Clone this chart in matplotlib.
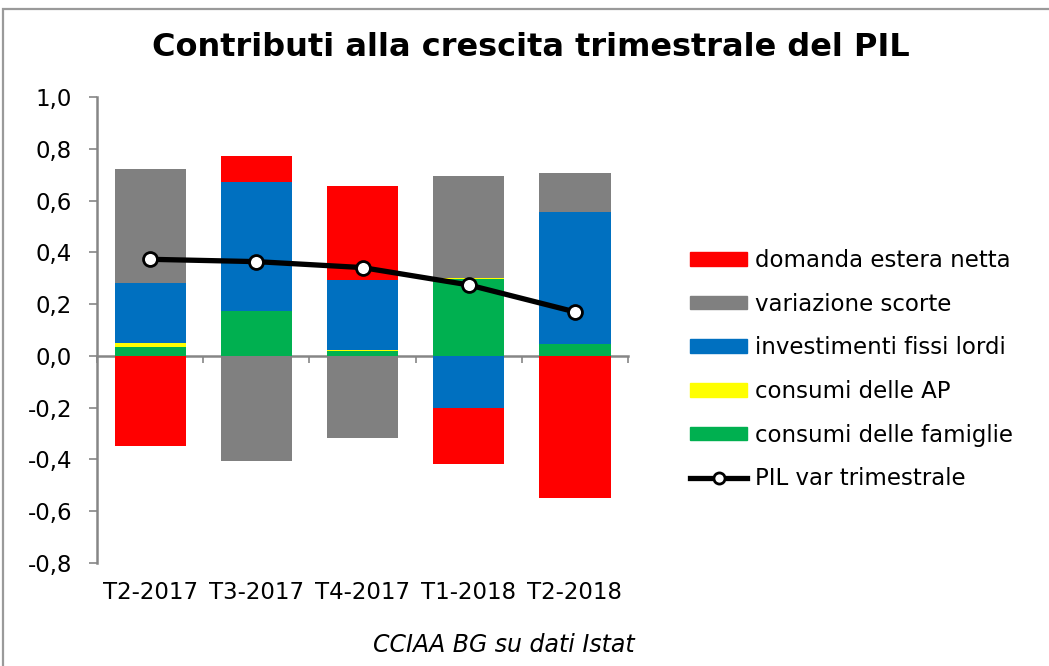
import matplotlib
matplotlib.use("Agg")
import matplotlib.pyplot as plt
from matplotlib.patches import Rectangle
from matplotlib.lines import Line2D
import numpy as np

categories = ["T2-2017", "T3-2017", "T4-2017", "T1-2018", "T2-2018"]
consumi_famiglie = [0.036, 0.172, 0.018, 0.296, 0.046]
consumi_ap = [0.014, 0.0, 0.005, 0.003, 0.0]
investimenti = [0.231, 0.499, 0.269, -0.203, 0.509]
scorte = [0.442, -0.406, -0.319, 0.395, 0.151]
estera = [-0.350, 0.100, 0.365, -0.213, -0.548]
pil = [0.373, 0.364, 0.341, 0.274, 0.170]
yticks = [-0.8, -0.6, -0.4, -0.2, 0.0, 0.2, 0.4, 0.6, 0.8, 1.0]

series = [
    ("consumi delle famiglie", consumi_famiglie, "#00B050"),
    ("consumi delle AP", consumi_ap, "#FFFF00"),
    ("investimenti fissi lordi", investimenti, "#0070C0"),
    ("variazione scorte", scorte, "#808080"),
    ("domanda estera netta", estera, "#FF0000"),
]

plt.rcParams['font.family'] = ['DejaVu Sans']
fig = plt.figure(figsize=(10.49, 6.66), dpi=100)
ax = fig.add_axes([0.0925, 0.1547, 0.5062, 0.6997])

x = np.arange(len(categories))
pos_base = np.zeros(len(categories))
neg_base = np.zeros(len(categories))
for name, vals, col in series:
    vals = np.array(vals)
    bottoms = np.where(vals >= 0, pos_base, neg_base)
    ax.bar(x, vals, width=0.67, bottom=bottoms, color=col, zorder=2,
           edgecolor=col, linewidth=0)
    pos_base = pos_base + np.where(vals >= 0, vals, 0)
    neg_base = neg_base + np.where(vals < 0, vals, 0)

ax.plot(x, pil, color="black", lw=3.8, marker="o", markersize=10,
        markerfacecolor="white", markeredgecolor="black", markeredgewidth=2, zorder=4)

ax.set_xlim(-0.5, 4.5)
ax.set_ylim(-0.8, 1.0)
ax.set_yticks(yticks)
ax.set_yticklabels([f"{v:.1f}".replace(".", ",").replace("-0,0", "0,0") for v in yticks])
ax.tick_params(axis='y', direction='out', length=6, width=1.2, color="#868686",
               labelsize=16.5, pad=12)
ax.set_xticks(x)
ax.set_xticklabels(categories)
ax.tick_params(axis='x', length=0, labelsize=16.5, pad=13)
for s in ["top", "right", "bottom"]:
    ax.spines[s].set_visible(False)
ax.spines["left"].set_color("#868686")
ax.spines["left"].set_linewidth(1.8)

sec = ax.secondary_xaxis(0.8 / 1.8)
sec.set_xticks(np.arange(-0.5, 5.0, 1.0))
sec.set_xticklabels([])
sec.tick_params(direction='out', length=5, width=1.2, color="#868686")
sec.spines["bottom"].set_color("#868686")
sec.spines["bottom"].set_linewidth(1.8)
for s in ["top", "left", "right"]:
    if s in sec.spines:
        sec.spines[s].set_visible(False)

fig.text(0.506, 0.928, "Contributi alla crescita trimestrale del PIL",
         ha="center", va="center", fontsize=23, fontweight="bold")
fig.text(0.48, 0.032, "CCIAA BG su dati Istat", ha="center", va="center",
         fontsize=17, style="italic")

leg_order = ["domanda estera netta", "variazione scorte", "investimenti fissi lordi",
             "consumi delle AP", "consumi delle famiglie"]
colors = {n: c for n, _, c in series}
leg_handles = [Rectangle((0, 0), 1, 1, color=colors[n]) for n in leg_order]
leg_handles.append(Line2D([0], [0], color="black", lw=3.8, marker="o", markersize=8,
                          markerfacecolor="white", markeredgecolor="black", markeredgewidth=2))
leg_labels = leg_order + ["PIL var trimestrale"]
fig.legend(leg_handles, leg_labels, loc="center left", bbox_to_anchor=(0.638, 0.445),
           frameon=False, fontsize=16.5, handlelength=2.5, handleheight=0.55,
           labelspacing=0.9, handletextpad=0.35)

fig.patches.append(Rectangle((3 / 1049, -0.05), 1.1, 1 - 9 / 666 + 0.05,
                             transform=fig.transFigure,
                             fill=False, edgecolor="#9A9A9A", linewidth=1.6))
fig.savefig("out.png", dpi=100)
